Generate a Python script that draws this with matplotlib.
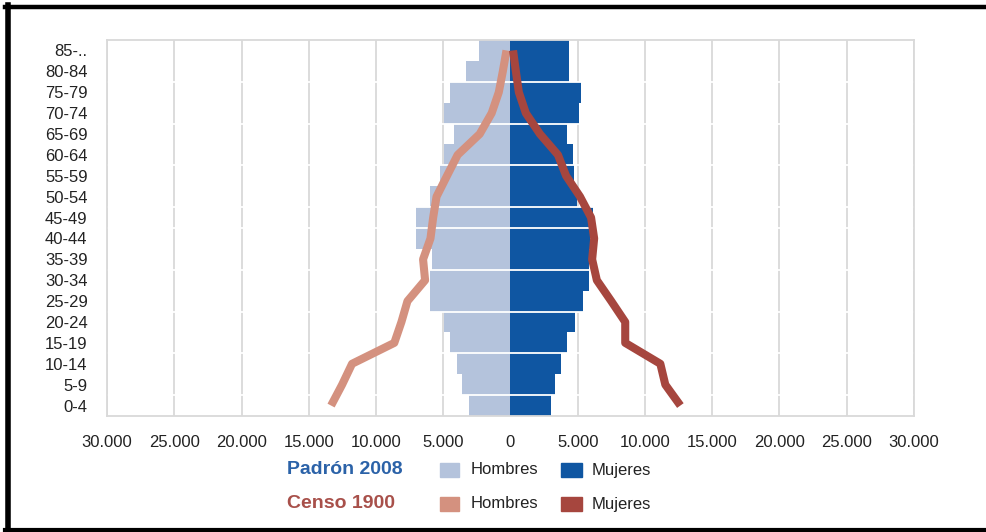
import numpy as np
import matplotlib.pyplot as plt
from matplotlib.lines import Line2D
from matplotlib.patches import Rectangle
from matplotlib.ticker import FuncFormatter

plt.rcParams['font.family'] = ['Liberation Sans', 'DejaVu Sans']

# grupos de edad, de abajo arriba
grupos = ['0-4', '5-9', '10-14', '15-19', '20-24', '25-29', '30-34', '35-39', '40-44',
          '45-49', '50-54', '55-59', '60-64', '65-69', '70-74', '75-79', '80-84', '85-..']

hombres_2008 = [3110, 3580, 3990, 4480, 4960, 5970, 5970, 5850, 7010,
                7010, 5950, 5220, 4960, 4210, 4960, 4480, 3280, 2360]
mujeres_2008 = [3000, 3300, 3750, 4200, 4800, 5400, 5850, 5800, 5900,
                6100, 4950, 4700, 4630, 4200, 5100, 5250, 4350, 4350]

hombres_1900 = [13340, 12520, 11780, 8640, 8110, 7660, 6350, 6500, 5950,
                5750, 5500, 4720, 3930, 2290, 1400, 870, 570, 300]
mujeres_1900 = [12630, 11510, 11140, 8530, 8530, 7490, 6420, 6070, 6220,
                5990, 5170, 4130, 3530, 2190, 1140, 620, 400, 190]

xticks = np.arange(-30000, 30001, 5000)

c_h2008 = '#b4c3dc'
c_m2008 = '#0f56a2'
c_h1900 = '#d4917f'
c_m1900 = '#a6463e'
gris = '#d9d9d9'

W, H = 987, 532
fig = plt.figure(figsize=(W / 100, H / 100), dpi=100)
ax = fig.add_axes([107 / W, 1 - 416 / H, (914 - 107) / W, (416 - 40) / H])

y = np.arange(len(grupos))
ax.barh(y, -np.array(hombres_2008), height=1.0, color=c_h2008, zorder=2)
ax.barh(y, mujeres_2008, height=1.0, color=c_m2008, zorder=2)

# lineas blancas que separan algunos pares de barras
for s in [0.5, 2.5, 4.5, 6.5, 8.5, 9.5, 11.5, 13.5, 15.5]:
    ax.axhline(s, color='white', lw=1.3, zorder=2.5)

ax.plot(-np.array(hombres_1900), y, color=c_h1900, lw=5.8, zorder=3,
        solid_capstyle='butt', solid_joinstyle='round')
ax.plot(mujeres_1900, y, color=c_m1900, lw=5.8, zorder=3,
        solid_capstyle='butt', solid_joinstyle='round')

ax.set_xlim(-30000, 30000)
ax.set_ylim(-0.5, len(grupos) - 0.5)
ax.set_xticks(xticks)
ax.xaxis.set_major_formatter(FuncFormatter(lambda v, p: f'{abs(int(v)):,}'.replace(',', '.')))
ax.set_yticks(y)
ax.set_yticklabels(grupos)
ax.tick_params(axis='x', length=0, pad=14, labelsize=12, colors='#222222')
ax.tick_params(axis='y', length=0, pad=14, labelsize=12, colors='#222222')
ax.grid(axis='x', color=gris, lw=1.3, zorder=0)
ax.set_axisbelow(True)
for sp in ax.spines.values():
    sp.set_color(gris)
    sp.set_linewidth(1.3)


def fx(px):
    return px / W


def fy(py):
    return 1 - py / H


# leyenda
fig.text(fx(287), fy(470), 'Padrón 2008', color='#2b62a8', fontsize=14,
         fontweight='bold', va='center', ha='left')
fig.text(fx(287), fy(504), 'Censo 1900', color='#a8504a', fontsize=14,
         fontweight='bold', va='center', ha='left')

filas = [(470, c_h2008, c_m2008), (504, c_h1900, c_m1900)]
for yc, ch, cm in filas:
    fig.add_artist(Rectangle((fx(440), fy(yc + 7)), 19 / W, 14 / H, color=ch,
                             transform=fig.transFigure))
    fig.text(fx(471), fy(yc), 'Hombres', fontsize=12, color='#222222', va='center')
    fig.add_artist(Rectangle((fx(561), fy(yc + 7)), 21 / W, 14 / H, color=cm,
                             transform=fig.transFigure))
    fig.text(fx(592), fy(yc + 1), 'Mujeres', fontsize=12, color='#222222', va='center')

# marco negro
fig.add_artist(Line2D([fx(5), 1], [fy(7.2), fy(7.2)], color='black', lw=3.2,
                      transform=fig.transFigure))
fig.add_artist(Line2D([fx(7.8), fx(7.8)], [fy(5), 0], color='black', lw=4.0,
                      transform=fig.transFigure))
fig.add_artist(Line2D([fx(5), 1], [fy(530), fy(530)], color='black', lw=3.0,
                      transform=fig.transFigure))

fig.savefig('out.png', dpi=100)
